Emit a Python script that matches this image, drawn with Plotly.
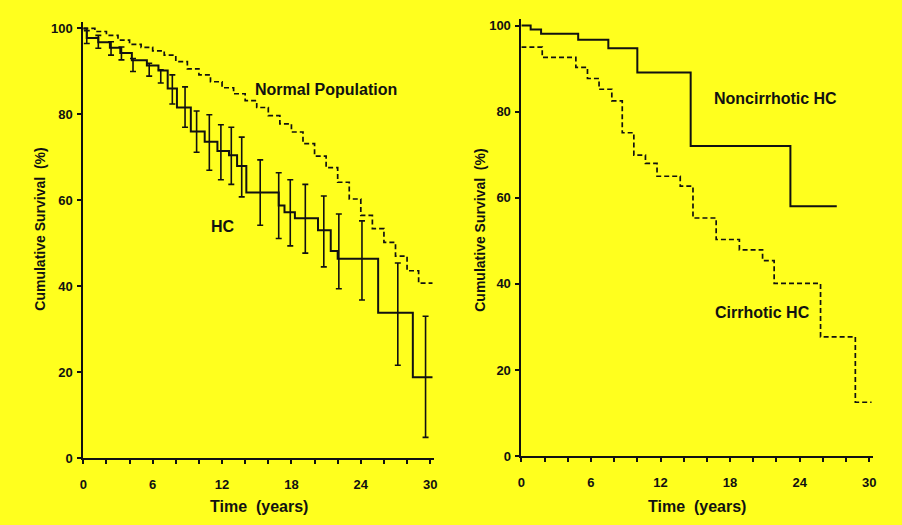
import plotly.graph_objects as go

# ---- Left panel: HC vs normal population ----
normal_t = [0, 1, 2, 3, 4, 5, 6, 7, 8, 9, 10, 11, 12, 13, 14, 15, 16, 17, 18, 19,
            20, 21, 22, 23, 24, 25, 26, 27, 28, 29, 30.2]
normal_s = [100, 99.3, 98.4, 97.3, 96.3, 95.6, 94.8, 93.8, 92.3, 90.6, 89.2, 87.6,
            86.2, 84.8, 83.2, 81.6, 79.7, 77.8, 75.9, 73.2, 70.3, 67.6, 64.2, 60.3,
            56.5, 53.4, 50.2, 47.0, 43.6, 40.7, 40.7]

hc_t = [0, 0.3, 1.3, 2.3, 3.2, 4.2, 5.5, 6.5, 7.3, 8.1, 9.3, 10.5, 11.6, 12.6, 13.3,
        14.1, 16.9, 17.4, 18.3, 20.3, 21.4, 22.0, 25.5, 28.5, 30.2]
hc_s = [100, 97.8, 96.8, 95.5, 94.3, 92.6, 91.4, 90.2, 86.0, 81.6, 76.0, 73.6, 71.5,
        70.5, 68.0, 61.8, 58.8, 57.2, 55.8, 53.0, 48.2, 46.4, 33.8, 18.8, 18.8]

# confidence limits for HC survival
ci_t = [0.3, 1.3, 2.4, 3.3, 4.3, 5.7, 6.7, 7.7, 8.8, 9.8, 10.9, 11.9, 12.8, 13.7,
        15.3, 16.9, 17.9, 19.2, 20.8, 22.1, 24.1, 27.2, 29.6]
ci_lo = [96.5, 95.4, 93.8, 92.7, 90.0, 88.9, 87.3, 82.4, 77.0, 71.2, 67.0, 64.8, 63.7,
         60.8, 54.2, 51.1, 49.4, 47.7, 44.5, 39.4, 36.8, 21.6, 4.8]
ci_hi = [99.5, 98.4, 96.9, 95.7, 93.0, 91.9, 90.4, 89.2, 86.4, 80.8, 79.9, 77.6, 77.0,
         74.7, 69.4, 66.4, 64.8, 63.7, 61.0, 56.8, 55.2, 45.4, 33.0]

# ---- Right panel: noncirrhotic vs cirrhotic HC ----
nonc_t = [0, 0.8, 1.7, 4.9, 7.5, 10.0, 14.6, 23.2, 27.2]
nonc_s = [100, 99.1, 98.1, 96.7, 94.7, 89.1, 72.0, 58.0, 58.0]

cirr_t = [0, 1.8, 4.7, 5.7, 6.7, 7.8, 8.7, 9.7, 10.7, 11.7, 13.7, 14.8, 16.8, 18.8,
          20.8, 21.8, 25.8, 28.8, 30.2]
cirr_s = [95.0, 92.6, 90.3, 87.7, 85.2, 82.5, 75.1, 69.9, 68.0, 65.0, 62.7, 55.3, 50.3,
          47.9, 45.4, 40.1, 27.7, 12.5, 12.5]

x_ticks = list(range(0, 31, 2))
x_ticktext = [str(v) if v % 6 == 0 else "" for v in x_ticks]
y_ticks = [0, 20, 40, 60, 80, 100]

BG = "#FFFF1E"
INK = "#111111"
FONT = "Liberation Sans"

fig = go.Figure()

# left panel
fig.add_trace(go.Scatter(x=normal_t, y=normal_s, mode="lines", line_shape="hv",
                         line=dict(color=INK, width=1.7, dash="5px,3px"),
                         xaxis="x", yaxis="y", showlegend=False))
fig.add_trace(go.Scatter(x=hc_t, y=hc_s, mode="lines", line_shape="hv",
                         line=dict(color=INK, width=2),
                         xaxis="x", yaxis="y", showlegend=False))
ci_mid = [(a + b) / 2 for a, b in zip(ci_lo, ci_hi)]
fig.add_trace(go.Scatter(
    x=ci_t, y=ci_mid, mode="markers", marker=dict(size=1, opacity=0),
    error_y=dict(type="data", symmetric=False,
                 array=[h - m for h, m in zip(ci_hi, ci_mid)],
                 arrayminus=[m - l for m, l in zip(ci_mid, ci_lo)],
                 color=INK, thickness=1.6, width=3),
    xaxis="x", yaxis="y", showlegend=False, hoverinfo="skip"))

# right panel
fig.add_trace(go.Scatter(x=nonc_t, y=nonc_s, mode="lines", line_shape="hv",
                         line=dict(color=INK, width=2),
                         xaxis="x2", yaxis="y2", showlegend=False))
fig.add_trace(go.Scatter(x=cirr_t, y=cirr_s, mode="lines", line_shape="hv",
                         line=dict(color=INK, width=1.7, dash="5px,3px"),
                         xaxis="x2", yaxis="y2", showlegend=False))

tick_font = dict(family=FONT, size=13, color=INK, weight="bold")
xaxis_common = dict(range=[0, 30.3], tickmode="array", tickvals=x_ticks,
                    ticktext=x_ticktext, ticks="outside", ticklen=4, tickwidth=1.5,
                    tickcolor=INK, showline=True, linecolor=INK, linewidth=1.8,
                    showgrid=False, zeroline=False, tickfont=tick_font,
                    ticklabelstandoff=9)
yaxis_common = dict(range=[0, 101.5], tickmode="array", tickvals=y_ticks,
                    ticks="outside", ticklen=4, tickwidth=1.5, tickcolor=INK,
                    showline=True, linecolor=INK, linewidth=1.8, showgrid=False,
                    zeroline=False, tickfont=tick_font, ticklabelstandoff=2)

fig.update_layout(
    width=902, height=525,
    margin=dict(l=0, r=0, t=0, b=0),
    paper_bgcolor=BG, plot_bgcolor=BG,
    xaxis=dict(domain=[0.08869, 0.48060], anchor="y", **xaxis_common),
    yaxis=dict(domain=[0.11429, 0.95924], anchor="x", **yaxis_common),
    xaxis2=dict(domain=[0.57871, 0.97173], anchor="y2", **xaxis_common),
    yaxis2=dict(domain=[0.11810, 0.96495], anchor="x2", **yaxis_common),
)

label_font = dict(family=FONT, size=16, color=INK, weight="bold")
title_font = dict(family=FONT, size=14, color=INK, weight="bold")
annotations = [
    dict(text="Normal Population", x=21.0, y=85.8, xref="x", yref="y", font=label_font),
    dict(text="HC", x=12.1, y=54.0, xref="x", yref="y", font=label_font),
    dict(text="Noncirrhotic HC", x=21.9, y=83.1, xref="x2", yref="y2", font=label_font),
    dict(text="Cirrhotic HC", x=20.8, y=33.3, xref="x2", yref="y2", font=label_font),
    dict(text="Time  (years)", x=257 / 902, y=1 - 514 / 525, xref="paper",
         yref="paper", font=label_font),
    dict(text="Time  (years)", x=699 / 902, y=1 - 514 / 525, xref="paper",
         yref="paper", font=label_font),
    dict(text="Cumulative Survival  (%)", x=36 / 902, y=1 - 232 / 525, xref="paper",
         yref="paper", textangle=-90, font=title_font),
    dict(text="Cumulative Survival  (%)", x=480 / 902, y=1 - 233 / 525, xref="paper",
         yref="paper", textangle=-90, font=title_font),
]
for a in annotations:
    a["showarrow"] = False
    a["xanchor"] = "center"
    a["yanchor"] = "middle"
fig.update_layout(annotations=annotations)

fig.write_html("out.html")
